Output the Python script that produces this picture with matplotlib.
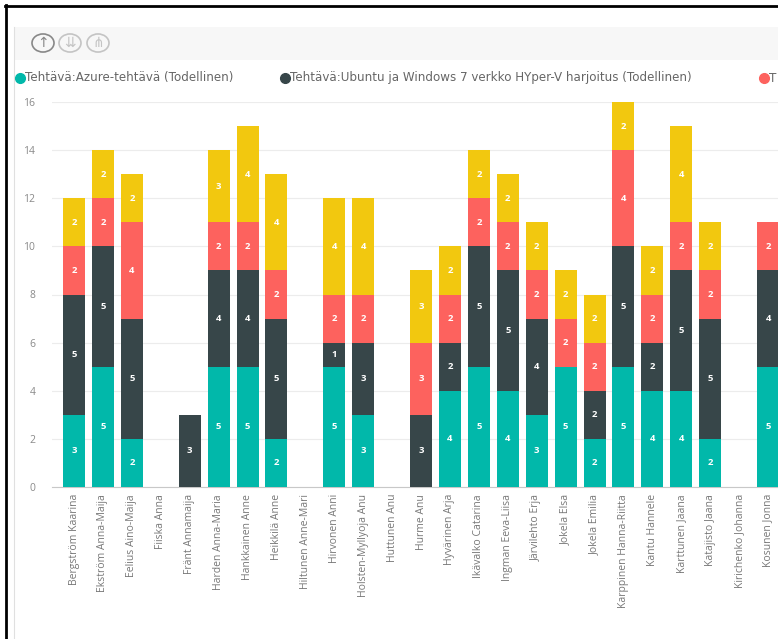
import numpy as np
import matplotlib.pyplot as plt
from matplotlib.lines import Line2D
from matplotlib.patches import Rectangle, Circle

plt.rcParams['font.family'] = ['Open Sans', 'DejaVu Sans']

names = ["Bergström Kaarina", "Ekström Anna-Maija", "Eelius Aino-Maija", "Fiiska Anna",
         "Fränt Annamaija", "Harden Anna-Maria", "Hankkainen Anne", "Heikkilä Anne",
         "Hiltunen Anne-Mari", "Hirvonen Anni", "Holsten-Myllyoja Anu", "Huttunen Anu",
         "Hurme Anu", "Hyvärinen Arja", "Ikävalko Catarina", "Ingman Eeva-Liisa",
         "Järvilehto Erja", "Jokela Elsa", "Jokela Emilia", "Karppinen Hanna-Riitta",
         "Kantu Hannele", "Karttunen Jaana", "Katajisto Jaana", "Kirichenko Johanna",
         "Kosunen Jonna"]

azure  = [3, 5, 2, 0, 0, 5, 5, 2, 0, 5, 3, 0, 0, 4, 5, 4, 3, 5, 2, 5, 4, 4, 2, 0, 5]
ubuntu = [5, 5, 5, 0, 3, 4, 4, 5, 0, 1, 3, 0, 3, 2, 5, 5, 4, 0, 2, 5, 2, 5, 5, 0, 4]
third  = [2, 2, 4, 0, 0, 2, 2, 2, 0, 2, 2, 0, 3, 2, 2, 2, 2, 2, 2, 4, 2, 2, 2, 0, 2]
fourth = [2, 2, 2, 0, 0, 3, 4, 4, 0, 4, 4, 0, 3, 2, 2, 2, 2, 2, 2, 2, 2, 4, 2, 0, 0]

series = [azure, ubuntu, third, fourth]
colors = ["#01B8AA", "#374649", "#FD625E", "#F2C80F"]
# third legend entry is cut off at the right edge of the screenshot
legend_labels = ["Tehtävä:Azure-tehtävä (Todellinen)",
                 "Tehtävä:Ubuntu ja Windows 7 verkko HYper-V harjoitus (Todellinen)",
                 "T"]
yticks = [0, 2, 4, 6, 8, 10, 12, 14, 16]

W, H = 778, 639
fig = plt.figure(figsize=(W / 100, H / 100), dpi=100)

def fx(px):
    return px / W

def fy(py):
    return 1 - py / H

# plot area in pixels
ax_left, ax_right, ax_top, ax_bottom = 52, 778, 102, 487
ax = fig.add_axes([fx(ax_left), fy(ax_bottom), fx(ax_right - ax_left), (ax_bottom - ax_top) / H])

x = np.arange(len(names))
spacing = 28.92
first_center = 74
ax.set_xlim((ax_left - first_center) / spacing, (ax_right - first_center) / spacing)
ax.set_ylim(0, 16)

bottom = np.zeros(len(names))
for vals, col in zip(series, colors):
    vals = np.array(vals)
    ax.bar(x, vals, 0.76, bottom=bottom, color=col, zorder=3, clip_on=False)
    for i, v in enumerate(vals):
        if v > 0:
            ax.text(x[i], bottom[i] + v / 2, str(v), ha="center", va="center",
                    color="white", fontsize=6.8, fontweight="bold", zorder=4)
    bottom = bottom + vals

ax.set_yticks(yticks)
ax.set_yticklabels([str(t) for t in yticks])
ax.yaxis.grid(True, color="#ececec", linewidth=0.8, zorder=0)
ax.tick_params(axis="y", length=0, pad=12, labelsize=7.5, labelcolor="#8a8a8a")
ax.set_xticks(x)
ax.set_xticklabels(names, rotation=90, fontsize=7.5, color="#777777")
ax.tick_params(axis="x", length=0, pad=5)
for s in ["top", "right", "left"]:
    ax.spines[s].set_visible(False)
ax.spines["bottom"].set_color("#c8c8c8")
ax.spines["bottom"].set_linewidth(0.8)

# header band and frame
fig.add_artist(Rectangle((fx(14), fy(60)), fx(W - 14), (60 - 27) / H,
                         transform=fig.transFigure, facecolor="#f7f7f7", edgecolor="none", zorder=0))
fig.add_artist(Line2D([fx(14), fx(14)], [fy(27), 0], transform=fig.transFigure,
                      color="#e0e0e0", linewidth=0.8))
fig.add_artist(Line2D([fx(6), fx(6)], [fy(5), 0], transform=fig.transFigure,
                      color="black", linewidth=2))
fig.add_artist(Line2D([fx(5), 1], [fy(6), fy(6)], transform=fig.transFigure,
                      color="black", linewidth=2))

# toolbar icons
icons = ["↑", "⇊", "⋔"]
for i, (cx, g) in enumerate(zip([43, 70, 98], icons)):
    ec = "#888888" if i == 0 else "#c4c4c4"
    fig.add_artist(Circle((fx(cx), fy(43)), 11 / W, transform=fig.transFigure,
                          facecolor="none", edgecolor=ec, linewidth=1.2))
    fig.text(fx(cx), fy(43), g, ha="center", va="center", fontsize=10,
             color=ec, family="DejaVu Sans")

# legend
leg_x = [20, 285, 764]
for lx, lab, col in zip(leg_x, legend_labels, colors):
    fig.add_artist(Line2D([fx(lx)], [fy(78)], transform=fig.transFigure, marker="o",
                          markersize=7, color=col, linestyle="none"))
    fig.text(fx(lx + 5), fy(78), lab, ha="left", va="center", fontsize=8.6,
             color="#666666", family="DejaVu Sans")

fig.savefig("out.png", dpi=100)
